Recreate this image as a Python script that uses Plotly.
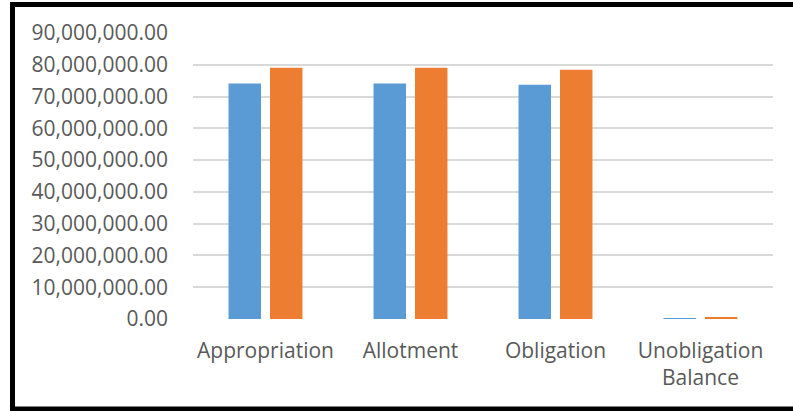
import plotly.graph_objects as go

categories = ["Appropriation", "Allotment", "Obligation", "Unobligation<br>Balance"]
series_a = [74100000, 74100000, 73700000, 100000]
series_b = [79100000, 79100000, 78400000, 500000]
y_ticks = [0, 10000000, 20000000, 30000000, 40000000, 50000000, 60000000, 70000000, 80000000, 90000000]

W, H = 793, 411
ML, MR, MT, MB = 193, 20, 33, 92
pw, ph = W - ML - MR, H - MT - MB

def px_x(p):
    return (p - ML) / pw

def px_y(p):
    return (H - MB - p) / ph

fig = go.Figure()
fig.add_trace(go.Bar(x=categories, y=series_a, marker=dict(color="#5B9BD5", line=dict(width=0)), name="A"))
fig.add_trace(go.Bar(x=categories, y=series_b, marker=dict(color="#ED7D31", line=dict(width=0)), name="B"))

fig.update_layout(
    width=W, height=H,
    margin=dict(l=ML, r=MR, t=MT, b=MB, pad=0),
    paper_bgcolor="white", plot_bgcolor="white",
    barmode="group", bargap=0.428, bargroupgap=0.217,
    showlegend=False,
    font=dict(family="Open Sans", size=21, color="#595959"),
    xaxis=dict(showgrid=False, showline=False, ticks="", zeroline=False,
               ticklabelstandoff=17, tickfont=dict(size=21, color="#595959")),
    yaxis=dict(range=[0, 90000000], tickvals=y_ticks, tickformat=",.2f",
               showgrid=True, gridcolor="#D9D9D9", gridwidth=1.5,
               zeroline=False, showline=False, ticks="",
               ticklabelstandoff=24, tickfont=dict(size=21, color="#595959")),
    shapes=[dict(type="rect", xref="paper", yref="paper",
                 x0=px_x(12.5), x1=px_x(805), y0=px_y(409), y1=px_y(4.5),
                 line=dict(color="black", width=5), fillcolor="rgba(0,0,0,0)", layer="above")],
)

fig.write_html("out.html")
